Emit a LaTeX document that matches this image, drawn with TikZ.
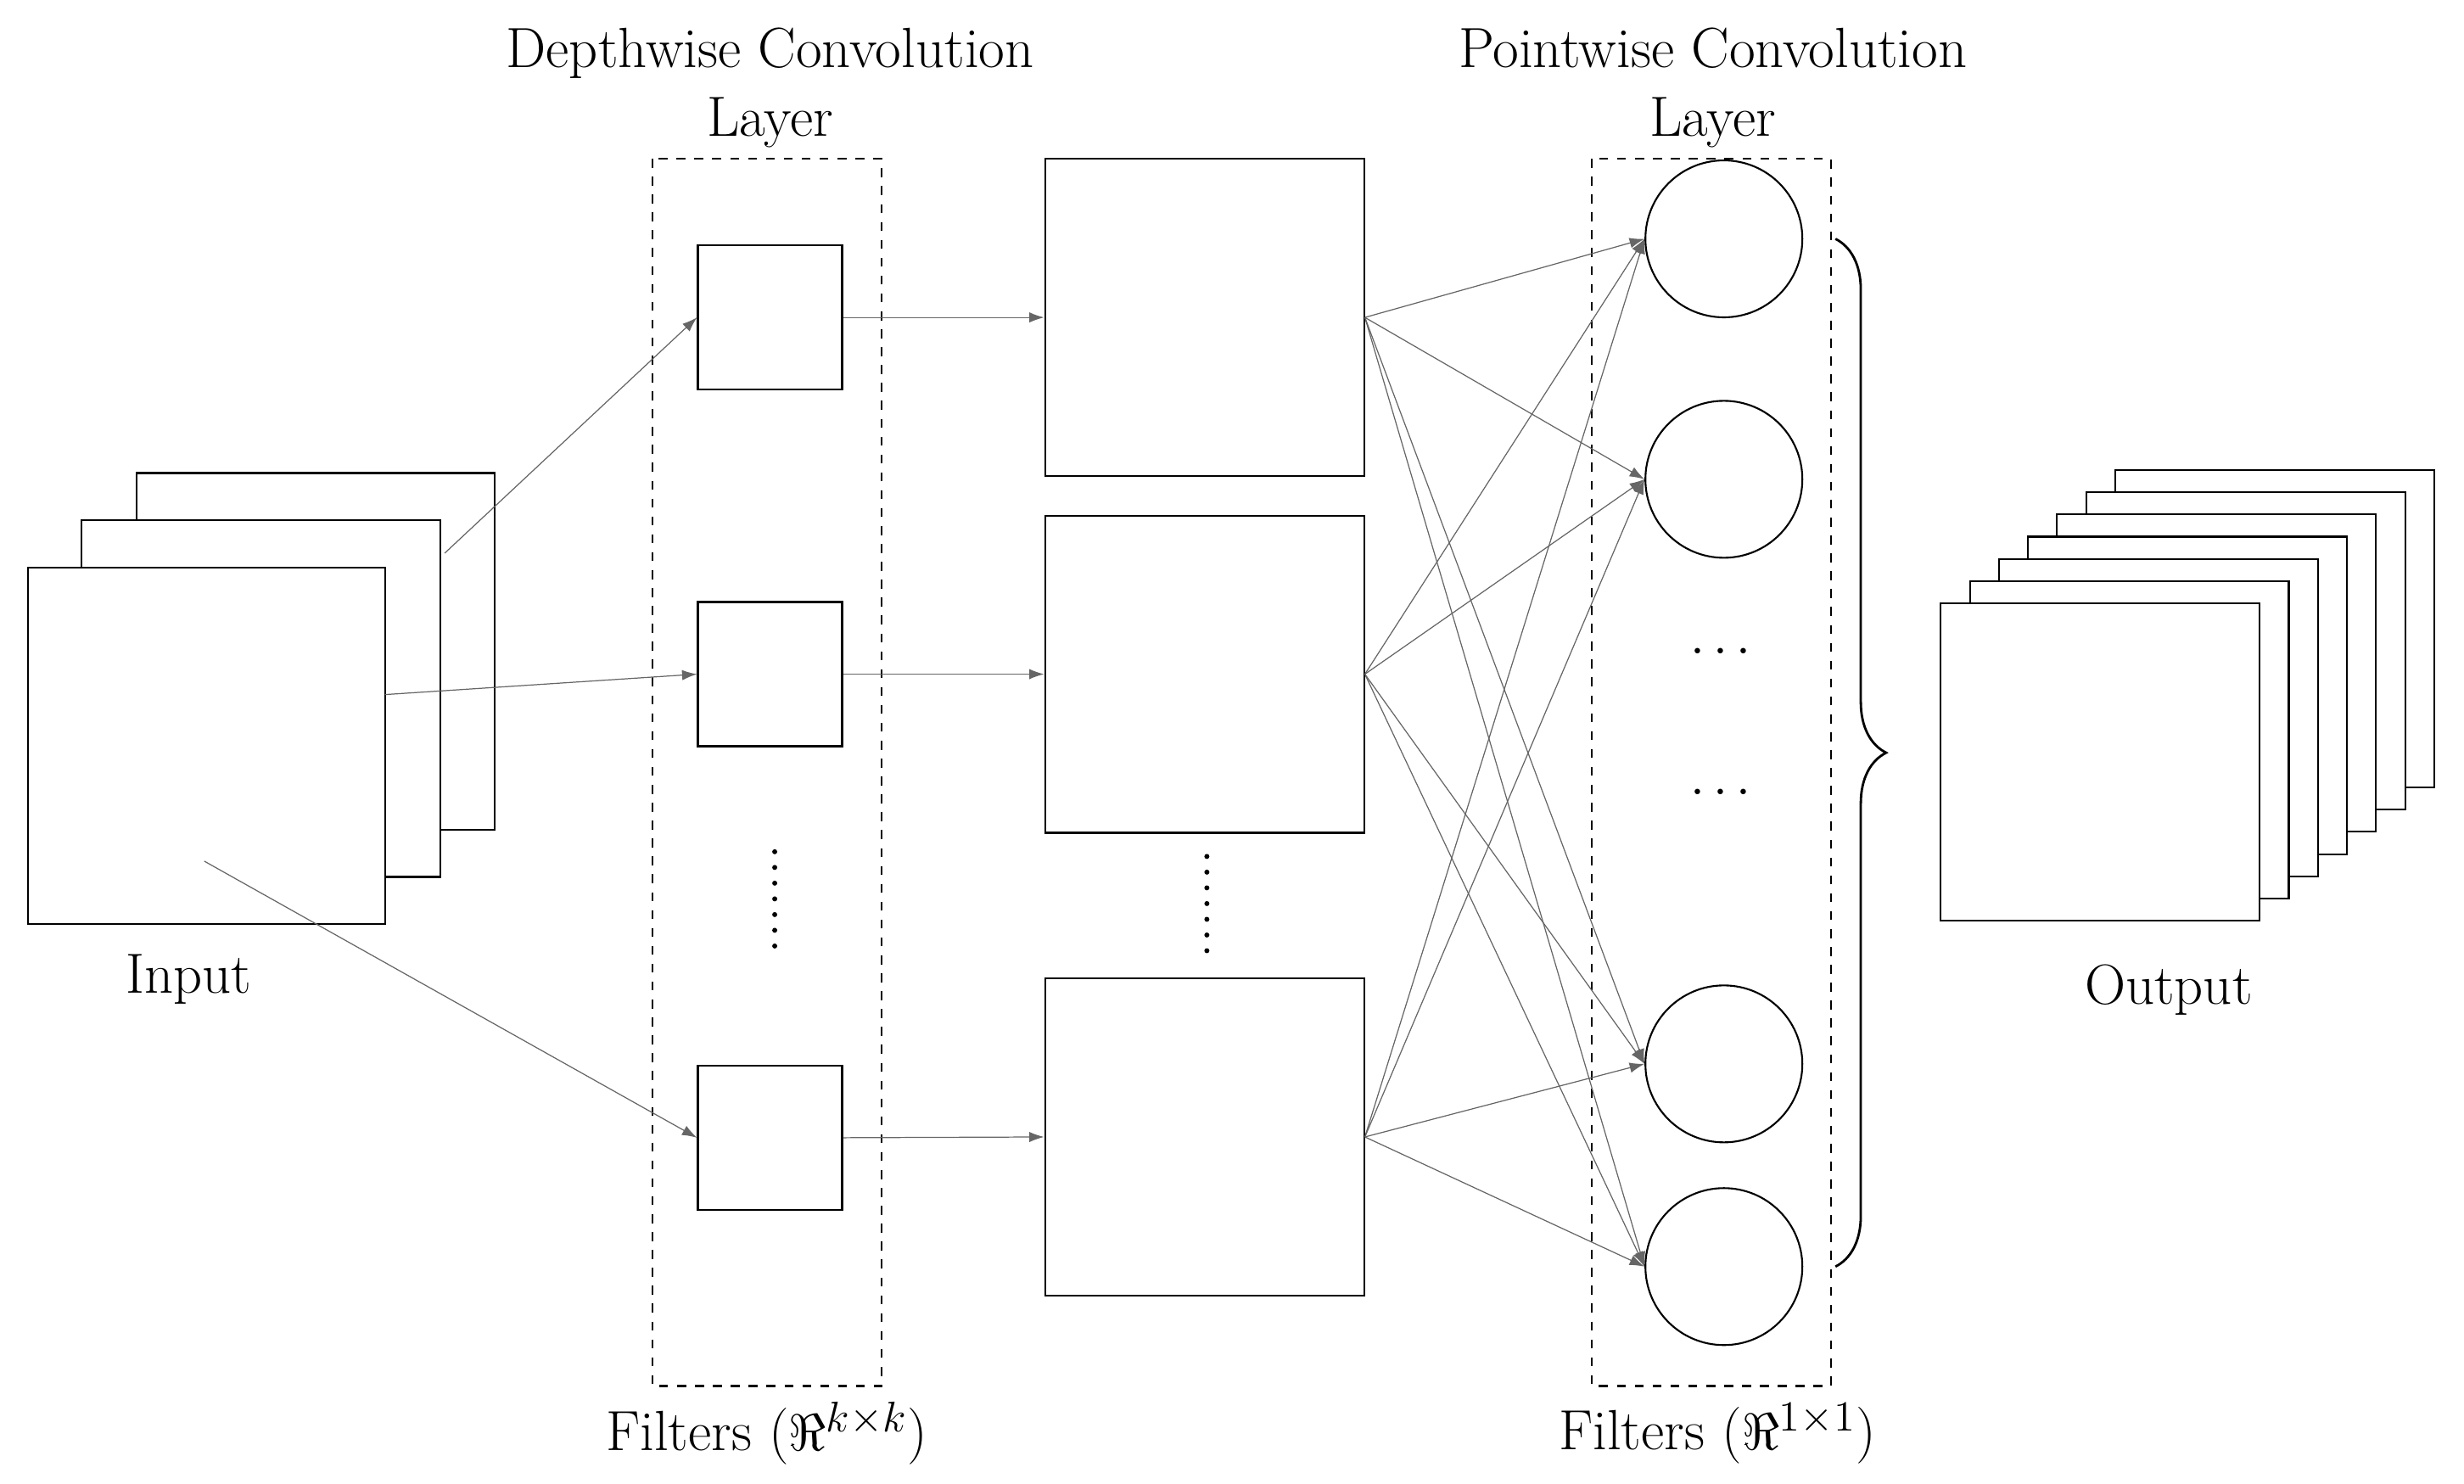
\documentclass[tikz,border=0pt]{standalone}
\usetikzlibrary{decorations.pathreplacing,arrows.meta}
\begin{document}
\begin{tikzpicture}[x=0.01852cm,y=-0.01852cm,
  sq/.style={draw,fill=white,line width=0.6pt},
  dbox/.style={draw,dashed,line width=0.6pt},
  ar/.style={-{Latex[length=5pt,width=3.5pt]},line width=0.35pt,gray!80!black},
  lbl/.style={font=\fontsize{19}{23}\selectfont,align=center}]
\useasboundingbox (0,0) rectangle (1568,944);
% input
\draw[sq] (87,301) rectangle (315,528);
\draw[sq] (52,331) rectangle (280,558);
\draw[sq] (18,361) rectangle (245,588);
\node[lbl] (inl) at (120,623) {Input};
\coordinate (i1) at (283,352);
\coordinate (i2) at (245,442);
\coordinate (i3) at (130,548);
% depthwise
\node[lbl] (dt) at (490,56) {Depthwise Convolution\\Layer};
\draw[dbox] (415,101) rectangle (561,882);
\node[sq,minimum size=1.7cm,inner sep=0] (f1) at (490,202) {};
\node[sq,minimum size=1.7cm,inner sep=0] (f2) at (490,429) {};
\node[sq,minimum size=1.7cm,inner sep=0] (f3) at (490,724) {};
\foreach \y in {542,552,...,602} \fill (493,\y) circle (1.6);
\node[lbl] (fl1) at (488,912) {Filters ($\Re^{k\times k}$)};
% middle
\node[sq,minimum width=3.76cm,minimum height=3.74cm,inner sep=0] (m1) at (766.5,202) {};
\node[sq,minimum width=3.76cm,minimum height=3.74cm,inner sep=0] (m2) at (766.5,429) {};
\node[sq,minimum width=3.76cm,minimum height=3.74cm,inner sep=0] (m3) at (766.5,723.5) {};
\foreach \y in {545,555,...,605} \fill (768,\y) circle (1.6);
% pointwise
\node[lbl] (pt) at (1090,56) {Pointwise Convolution\\Layer};
\draw[dbox] (1013,101) rectangle (1165,882);
\foreach \n/\y in {1/152,2/305,3/677,4/806}
  \node[draw,circle,minimum size=1.85cm,inner sep=0,line width=0.6pt] (c\n) at (1097,\y) {};
\node[lbl] (d1) at (1095,415) {$\cdots$};
\node[lbl] (d2) at (1095,505) {$\cdots$};
\node[lbl] (fl2) at (1093,912) {Filters ($\Re^{1\times 1}$)};
% arrows
\draw[ar] (i1) -- (f1.west);
\draw[ar] (i2) -- (f2.west);
\draw[ar] (i3) -- (f3.west);
\draw[ar] (f1.east) -- (m1.west);
\draw[ar] (f2.east) -- (m2.west);
\draw[ar] (f3.east) -- (m3.west);
\foreach \m in {1,2,3} \foreach \c in {1,2,3,4}
  \draw[ar] (m\m.east) -- (c\c.west);
% brace
\draw[decorate,decoration={brace,amplitude=17pt,aspect=0.5},line width=0.8pt] (1168,152) -- (1168,806);
% output
\foreach \k in {6,5,...,0}
  \draw[sq] ({1235+18.5*\k},{384-14.17*\k}) rectangle ++(203,202);
\node[lbl] (ol) at (1380,630) {Output};
\end{tikzpicture}
\end{document}
